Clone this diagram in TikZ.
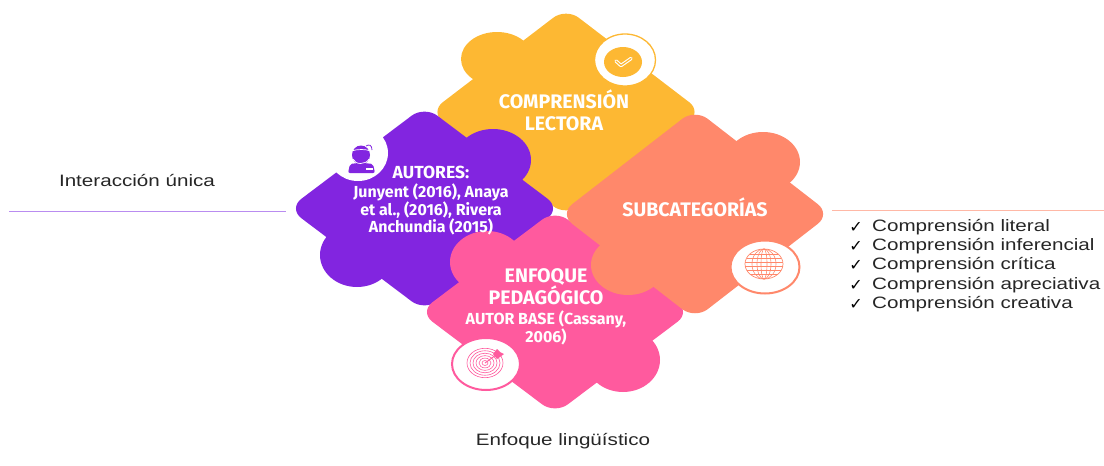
\documentclass[tikz,border=0pt]{standalone}
\usepackage{fontspec}
\newfontfamily\piecefont{Fira Sans}
\newfontfamily\notefont[FakeStretch=1.25]{Liberation Sans}
\newfontfamily\tickfont{DejaVu Sans}
\definecolor{pieceyellow}{HTML}{FDB833}
\definecolor{piecepurple}{HTML}{8225E0}
\definecolor{piecepink}{HTML}{FF5A9E}
\definecolor{piecesalmon}{HTML}{FF886B}
\definecolor{linelilac}{HTML}{B98CF0}
\definecolor{linesalmon}{HTML}{FFB8A6}
\tikzset{piece/.style={rounded corners=16pt}}
\tikzset{title/.style={text=white,font=\piecefont\bfseries\fontsize{19.6}{22}\selectfont,align=center}}
\tikzset{small/.style={text=white,font=\piecefont\bfseries\fontsize{16}{17.5}\selectfont,align=center}}
\tikzset{note/.style={text=black!85,font=\notefont\fontsize{16.5}{19}\selectfont}}
\tikzset{tick/.style={text=black,font=\tickfont\fontsize{16}{16}\selectfont}}

\begin{document}
\begin{tikzpicture}[x=1pt,y=-1pt]
\useasboundingbox (0,0) rectangle (1104,466);

% yellow
\fill[pieceyellow,piece] (566,8) -- (702,112) -- (566,216) -- (430,112) -- cycle;
\fill[pieceyellow] (497,59) ellipse[x radius=36, y radius=27];
\fill[white,draw=pieceyellow,line width=1.3pt] (625,60) ellipse[x radius=30.5, y radius=26];
\fill[pieceyellow] (623,62) ellipse[x radius=19, y radius=15];
\draw[white,line width=3.4pt,line cap=round,line join=round] (616,61) -- (621,65.5) -- (631,58.5);
\draw[pieceyellow,line width=1.2pt,line cap=round,line join=round] (616,61) -- (621,65.5) -- (631,58.5);

% purple
\fill[piecepurple,piece] (424.5,106) -- (560.5,208.5) -- (424.5,311) -- (288.5,208.5) -- cycle;
\fill[piecepurple] (493,160) ellipse[x radius=38, y radius=31];
\fill[piecepurple] (357,255) ellipse[x radius=37, y radius=32];
\fill[white] (358,153) ellipse[x radius=30, y radius=28];
\fill[piecepurple] (361,155) ellipse[x radius=9, y radius=9.5];
\fill[piecepurple,rounded corners=2pt] (348,173) -- (350,164) -- (358,163) -- (364,163) -- (373,164) -- (375,173) -- cycle;
\draw[white,line width=0.7pt] (351,151) .. controls (358,149) and (365,149) .. (371,151);
\draw[white,line width=0.7pt] (353,159) .. controls (355,165) and (366,165) .. (369,159);
\draw[piecepurple,line width=0.8pt] (366,146) .. controls (369,144) and (372,145) .. (372,150);
\fill[white] (366,168) rectangle (373,170);

% pink
\fill[piecepink,piece] (555,210) -- (690.5,312) -- (555,414) -- (419.5,312) -- cycle;
\fill[piecepink] (487,262) ellipse[x radius=37, y radius=31];
\fill[piecepink] (623,360) ellipse[x radius=37, y radius=32];
\fill[white,draw=piecepink,line width=2pt] (486,364) ellipse[x radius=34, y radius=26];
\foreach \r in {1,...,6}
  \draw[piecepink,line width=0.6pt] (485,363) ellipse[x radius=3*\r, y radius=2.45*\r];
\draw[piecepink,line width=0.9pt] (485,363) -- (496,355);
\fill[piecepink] (493,354) -- (497,349) -- (500,352) -- (504,354) -- (500,357) -- (497,359) -- cycle;

% salmon
\fill[piecesalmon,piece] (695,109) -- (830.5,214) -- (695,319) -- (559.5,214) -- cycle;
\fill[piecesalmon] (763,162) ellipse[x radius=37, y radius=30];
\fill[piecesalmon] (628,265) ellipse[x radius=37, y radius=30];
\fill[white,draw=piecesalmon,line width=2pt] (765,267) ellipse[x radius=34.5, y radius=26.5];
\draw[piecesalmon,line width=0.7pt] (764,264) ellipse[x radius=19, y radius=15];
\foreach \r in {3,7,12}
  \draw[piecesalmon,line width=0.6pt] (764,264) ellipse[x radius=\r, y radius=15];
\foreach \d in {-10,-6,-2,2,6,10}
  \draw[piecesalmon,line width=0.6pt] (764,264) ++(-{19*sqrt(1-\d*\d/225)},\d) -- ++({38*sqrt(1-\d*\d/225)},0);

% lines
\coordinate (leftstart) at (9,211);
\coordinate (leftend) at (286,211);
\coordinate (rightstart) at (832,210);
\coordinate (rightend) at (1104,210);
\draw[color=linelilac,line width=1pt] (leftstart) -- (leftend);
\draw[color=linesalmon,line width=1pt] (rightstart) -- (rightend);

% labels
\node[title] (lectora) at (564,110.5) {COMPRENSIÓN\\LECTORA};
\node[small,font=\piecefont\bfseries\fontsize{17.5}{19}\selectfont] (autores) at (431,172) {AUTORES:};
\node[small] (citas) at (431,209.5) {Junyent (2016), Anaya\\et al., (2016), Rivera\\Anchundia (2015)};
\node[title] (subcat) at (695,207.5) {SUBCATEGORÍAS};
\node[title] (enfoque) at (546,287) {ENFOQUE\\PEDAGÓGICO};
\node[small,font=\piecefont\bfseries\fontsize{16}{18.5}\selectfont] (base) at (546,328) {AUTOR BASE (Cassany,\\2006)};
\node[note] (unica) at (137,180.5) {Interacción única};
\node[note] (linguistico) at (563,441.5) {Enfoque lingüístico};

\foreach \y/\name/\txt in {227.5/literal/Comprensión literal,246.5/inferencial/Comprensión inferencial,265.5/critica/Comprensión crítica,285.5/apreciativa/Comprensión apreciativa,304.5/creativa/Comprensión creativa}{
  \node[tick] (tick\name) at (856,\y) {✓};
  \node[note,anchor=west,inner sep=0pt] (\name) at (872,\y) {\txt};
}
\end{tikzpicture}
\end{document}
